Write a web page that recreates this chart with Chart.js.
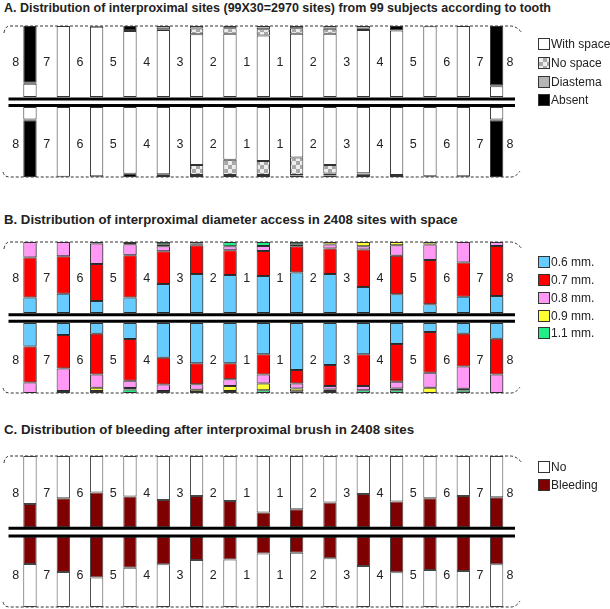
<!DOCTYPE html>
<html><head><meta charset="utf-8">
<script src="https://cdn.jsdelivr.net/npm/chart.js@4.4.0/dist/chart.umd.min.js"></script>
<style>
body{margin:0;background:#fff;width:610px;height:609px;position:relative;overflow:hidden;font-family:"Liberation Sans",Arial,sans-serif;color:#222;}
canvas{position:absolute;left:0;}
.title{position:absolute;left:4px;font-weight:bold;font-size:12.5px;line-height:14px;white-space:nowrap;}
.li{position:absolute;left:538px;height:14px;font-size:12px;line-height:14px;white-space:nowrap;}
.li i{position:absolute;left:0;top:1px;width:10px;height:10px;border:1px solid #333;}
.li span{position:absolute;left:13px;top:0;}
svg{position:absolute;left:0;top:0;pointer-events:none;}
</style></head>
<body>
<div class="title" style="top:1px">A. Distribution of interproximal sites (99X30=2970 sites) from 99 subjects according to tooth</div>
<div class="title" style="top:213px;font-size:13.2px">B. Distribution of interproximal diameter access in 2408 sites with space</div>
<div class="title" style="top:423px;font-size:13.3px">C. Distribution of bleeding after interproximal brush in 2408 sites</div>

<canvas id="aUp"></canvas><canvas id="aLo"></canvas>
<canvas id="bUp"></canvas><canvas id="bLo"></canvas>
<canvas id="cUp"></canvas><canvas id="cLo"></canvas>

<div id="legends"></div>

<svg width="610" height="609" id="deco"></svg>

<script>
// ---------- DATA ----------
const sites = ['8/7','7/6','6/5','5/4','4/3','3/2','2/1','1/1','1/2','2/3','3/4','4/5','5/6','6/7','7/8'];
const toothLabels = ['8','7','6','5','4','3','2','1','1','2','3','4','5','6','7','8'];

// Panel A (percent of sites)
const aUpperWithSpace = [18.5,100,99,93,94.5,88.5,89,86.5,89,89,94.5,93.5,99.5,100,15];
const aUpperNoSpace   = [0,0,0,0,1,8,8,9,8,7,1.5,0,0,0,0];
const aUpperDiastema  = [1.5,0,0,1.5,4.5,3.5,3,4.5,3,4,4,0,0,0,1.5];
const aUpperAbsent    = [80,0,1,5.5,0,0,0,0,0,0,0,6.5,0.5,0,83.5];

const aLowerWithSpace = [18,99.5,99,95.5,96,83,75.5,77,72,83,94.5,97,99,99,18];
const aLowerNoSpace   = [0,0,0,0,0,14,21.5,20,25,12,1,0,0,0,0];
const aLowerDiastema  = [1,0,0,0,2.5,1.5,1.5,1.5,1,3,3,0,0,0,1];
const aLowerAbsent    = [81,0.5,1,4.5,1.5,1.5,1.5,1.5,2,2,1.5,3,1,1,81];

// Panel B (percent of sites with space)
const bUpper06 = [22,27,17,22,41,55,53.5,52,57,55,36.5,26.5,12.5,23,24];
const bUpper07 = [56,53,52,59.5,46,40.5,35,35.5,37,36,53,54,62,48,70.5];
const bUpper08 = [22,20,29,15.5,7,0.5,5.5,7,3,5.5,4.5,15,22,29,5.5];
const bUpper09 = [0,0,0,1.5,3,2,0,0,0,3.5,6,4.5,3.5,0,0];
const bUpper11 = [0,0,2,1.5,3,2,6,5.5,3,0,0,0,0,0,0];

const bLower06 = [33.5,17,15.5,23,49.5,57.5,57.5,44.5,67,60,44.5,30,13,15.5,22.5];
const bLower07 = [51.5,48,58,59.5,38.5,30,23,29,19.5,30,45.5,54,58,46.5,51];
const bLower08 = [15,32,19,10.5,9,8,9.5,13,7,5,6,9.5,21.5,32,26.5];
const bLower09 = [0,3,4.5,2,3,3,7,9.5,4,2,0,2.5,7.5,2.5,0];
const bLower11 = [0,0,3,5,0,1.5,3,4,2.5,3,4,4,0,3.5,0];

// Panel C (percent of sites)
const cUpperBleeding = [32.5,40.5,48.5,43,38,43.5,36.5,20.5,25,34.5,46.5,36,40.5,43.5,42];
const cUpperNo       = [67.5,59.5,51.5,57,62,56.5,63.5,79.5,75,65.5,53.5,64,59.5,56.5,58];
const cLowerBleeding = [38.5,50,58,44,39,33,32,23.5,22.5,30.5,41.5,50.5,47,48.5,39];
const cLowerNo       = [61.5,50,42,56,61,67,68,76.5,77.5,69.5,58.5,49.5,53,51.5,61];

// ---------- STYLE ----------
function checker(){
  const c=document.createElement('canvas');c.width=8;c.height=8;
  const g=c.getContext('2d');
  g.fillStyle='#eeeeee';g.fillRect(0,0,8,8);
  g.fillStyle='#a8a8a8';g.fillRect(0,0,4,4);g.fillRect(4,4,4,4);
  return g.createPattern(c,'repeat');
}
const colWhite='#ffffff', colDia='#b5b5b5', colAbs='#000000';
const colB = ['#66ccff','#ff0000','#ff99f5','#ffff33','#22ee88'];
const colBleed='#7f0000';

const plotLeft=13.3, plotRight=513.3;

const toothPlugin = {
  id:'toothLabels',
  afterDatasetsDraw(chart, args, opts){
    const {ctx, chartArea, scales:{x}} = chart;
    const step = x.getPixelForValue(1)-x.getPixelForValue(0);
    const left = x.getPixelForValue(0)-step/2;
    ctx.save();
    ctx.font='12.5px "Liberation Sans", Arial, sans-serif';
    ctx.fillStyle='#222';ctx.textAlign='center';ctx.textBaseline='middle';
    toothLabels.forEach((t,i)=>{
      let px=left+i*step;
      if(i===0) px+=2.5;
      if(i===toothLabels.length-1) px-=3.3;
      ctx.fillText(t,px,(chartArea.top+chartArea.bottom)/2+opts.dy);
    });
    ctx.restore();
  }
};
const shadowPlugin = {
  id:'barShadow',
  beforeDatasetsDraw(chart,args,opts){
    if(!opts.on) return;
    chart.ctx.save();
    chart.ctx.shadowColor='rgba(0,0,0,0.35)';
    chart.ctx.shadowOffsetX=2;chart.ctx.shadowOffsetY=1;chart.ctx.shadowBlur=2;
  },
  afterDatasetsDraw(chart,args,opts){ if(opts.on) chart.ctx.restore(); }
};

function nz(arr){return arr.map(v=>v===0?null:v);}

function makeRow(id, top, height, reverse, series, borderColor, dy, shadow){
  const cv=document.getElementById(id);
  const pad=2;
  cv.width=610;cv.height=height+pad*2;
  cv.style.top=(top-pad)+'px';
  new Chart(cv,{
    type:'bar',
    data:{labels:sites,datasets:series.map(s=>({
      label:s.label,data:nz(s.data),backgroundColor:s.color,
      borderColor:borderColor,borderWidth:1,borderSkipped:false,
      barPercentage:0.4,categoryPercentage:1
    }))},
    options:{
      responsive:false,animation:false,devicePixelRatio:1,
      layout:{padding:{left:plotLeft,right:610-plotRight,top:pad,bottom:pad}},
      scales:{
        x:{display:false,stacked:true},
        y:{display:false,stacked:true,min:0,max:100,reverse:reverse}
      },
      plugins:{legend:{display:false},tooltip:{enabled:false},
        toothLabels:{dy:dy},barShadow:{on:shadow}}
    },
    plugins:[shadowPlugin,toothPlugin]
  });
}

const pat=checker();
const aNames=['With space','No space','Diastema','Absent'];
makeRow('aUp',26,71,false,[
  {label:aNames[0],data:aUpperWithSpace,color:colWhite},
  {label:aNames[1],data:aUpperNoSpace,color:pat},
  {label:aNames[2],data:aUpperDiastema,color:colDia},
  {label:aNames[3],data:aUpperAbsent,color:colAbs}],'#333',1.5,false);
makeRow('aLo',107,70,true,[
  {label:aNames[0],data:aLowerWithSpace,color:colWhite},
  {label:aNames[1],data:aLowerNoSpace,color:pat},
  {label:aNames[2],data:aLowerDiastema,color:colDia},
  {label:aNames[3],data:aLowerAbsent,color:colAbs}],'#333',3,false);

const bNames=['0.6 mm.','0.7 mm.','0.8 mm.','0.9 mm.','1.1 mm.'];
makeRow('bUp',242,71,false,[bUpper06,bUpper07,bUpper08,bUpper09,bUpper11].map((d,i)=>({label:bNames[i],data:d,color:colB[i]})),'#333',1.5,true);
makeRow('bLo',323,70,true,[bLower06,bLower07,bLower08,bLower09,bLower11].map((d,i)=>({label:bNames[i],data:d,color:colB[i]})),'#333',2.5,true);

makeRow('cUp',456,71,false,[
  {label:'Bleeding',data:cUpperBleeding,color:colBleed},
  {label:'No',data:cUpperNo,color:colWhite}],'#444',2.5,false);
makeRow('cLo',537,70,true,[
  {label:'Bleeding',data:cLowerBleeding,color:colBleed},
  {label:'No',data:cLowerNo,color:colWhite}],'#444',4,false);

// ---------- LEGENDS ----------
const legendItems=[
  [aNames[0],'#fff',44],[aNames[1],'checker',63],[aNames[2],colDia,82],[aNames[3],colAbs,100],
  [bNames[0],colB[0],262],[bNames[1],colB[1],280],[bNames[2],colB[2],298],[bNames[3],colB[3],316],[bNames[4],colB[4],333],
  ['No','#fff',467],['Bleeding',colBleed,485]
];
const lg=document.getElementById('legends');
legendItems.forEach(([t,c,y])=>{
  const d=document.createElement('div');d.className='li';d.style.top=(y-7)+'px';
  const bx=document.createElement('i');
  if(c==='checker'){bx.style.background='repeating-conic-gradient(#a8a8a8 0 25%, #eee 0 50%) 0 0/8px 8px';}
  else bx.style.background=c;
  const s=document.createElement('span');s.textContent=t;
  d.appendChild(bx);d.appendChild(s);lg.appendChild(d);
});

// ---------- DECORATION (frames & jaw lines) ----------
const panels=[{t:26,b:177,l1:99,l2:105.5},{t:242,b:393,l1:314.8,l2:321.3},{t:456,b:607,l1:528.3,l2:536}];
let svg='';
panels.forEach(p=>{
  svg+=`<path d="M4,${p.t+7} Q5,${p.t} 10,${p.t} L510,${p.t} Q517,${p.t} 522,${p.t+7}" fill="none" stroke="#333" stroke-width="1" stroke-dasharray="3,2"/>`;
  svg+=`<path d="M3,${p.b-5} Q4,${p.b} 10,${p.b} L511,${p.b} Q516,${p.b} 520,${p.b-6}" fill="none" stroke="#333" stroke-width="1" stroke-dasharray="3,2"/>`;
  svg+=`<line x1="8.5" x2="515" y1="${p.l1}" y2="${p.l1}" stroke="#000" stroke-width="3"/>`;
  svg+=`<line x1="8.5" x2="515" y1="${p.l2}" y2="${p.l2}" stroke="#000" stroke-width="3"/>`;
});
document.getElementById('deco').innerHTML=svg;
</script>
</body></html>
